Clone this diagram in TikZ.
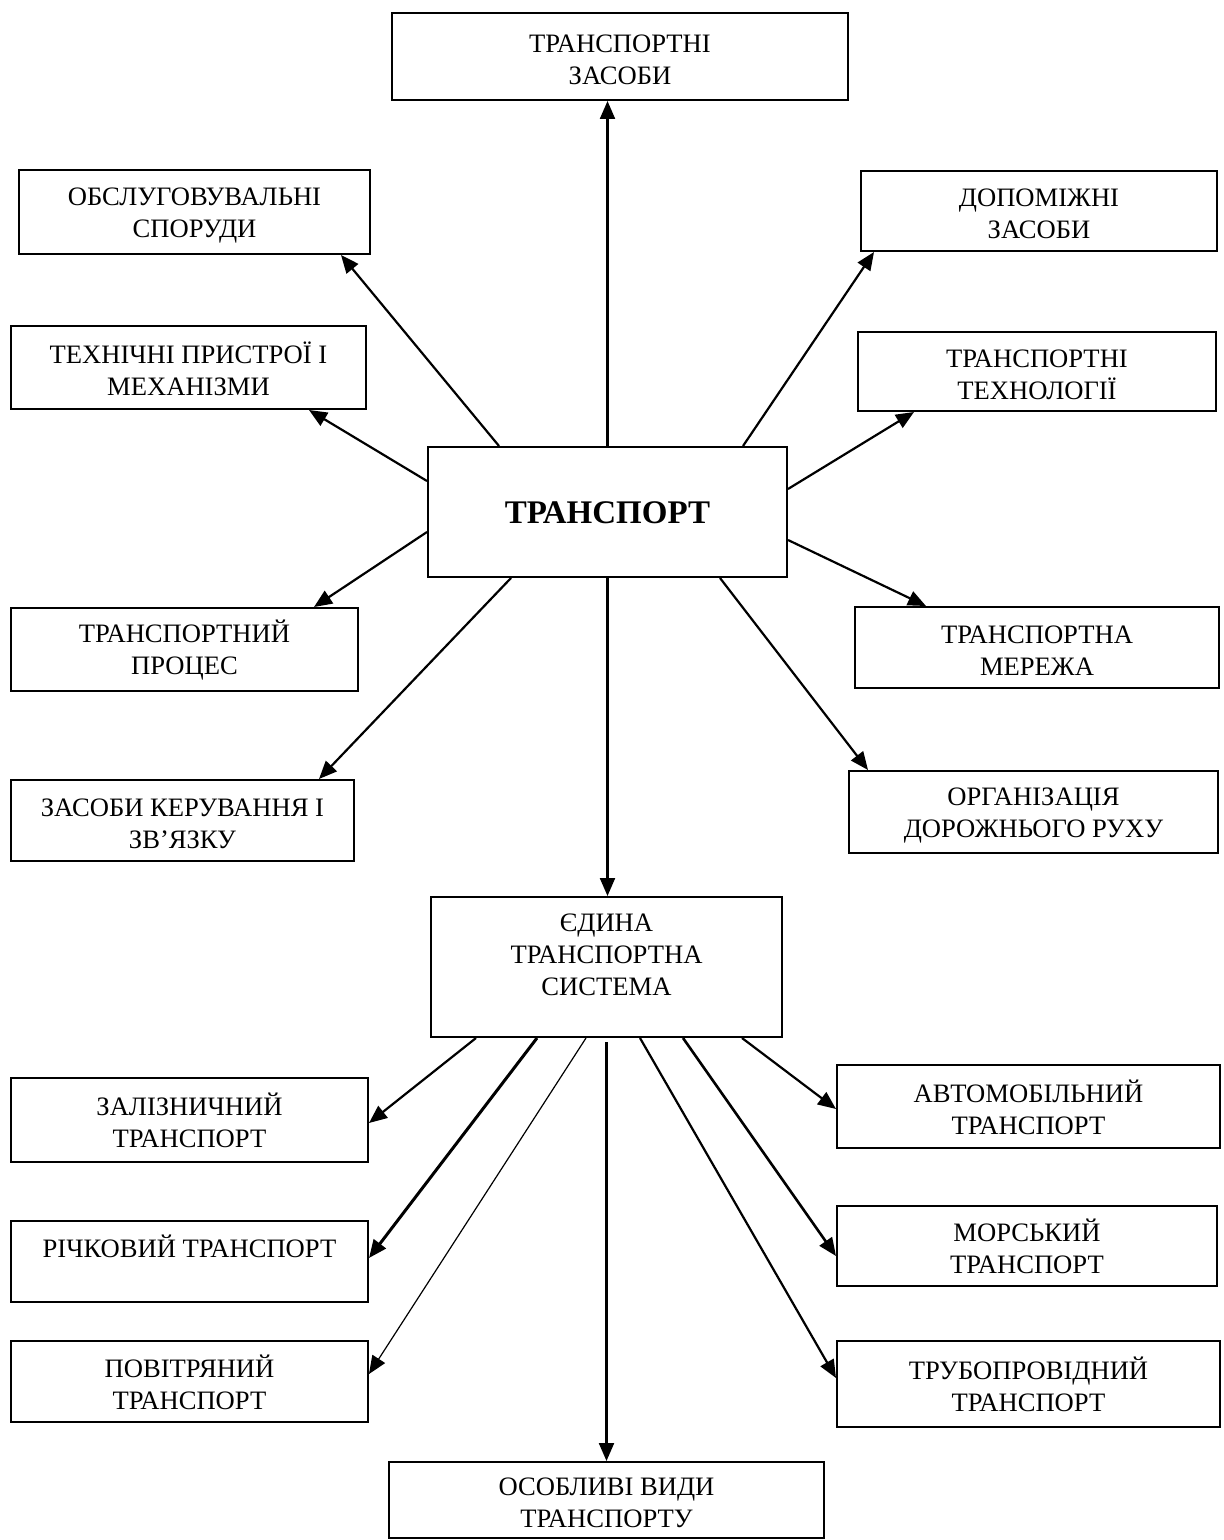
\documentclass[tikz,border=0pt]{standalone}
\usepackage{fontspec}
\setmainfont{Liberation Serif}
\usetikzlibrary{arrows.meta}
\newcommand{\boxfont}{\fontsize{13.3}{16}\selectfont}
\newcommand{\tstrut}{\rule{0pt}{12pt}}
\begin{document}
\begin{tikzpicture}[x=0.5pt,y=-0.5pt,
  box/.style={draw, line width=1pt, inner sep=0pt, align=center, font=\boxfont},
  arr/.style={line width=1.1pt, -{Triangle[length=9pt,width=7.5pt]}},
  thinarr/.style={arr, line width=0.6pt},
  thickarr/.style={arr, line width=1.5pt}]
\useasboundingbox (0,0) rectangle (1223,1540);

\node[box, minimum width=228pt, minimum height=43.5pt] (tz) at (620,56.5) {\tstrut ТРАНСПОРТНІ\\ЗАСОБИ};
\node[box, minimum width=175.5pt, minimum height=42pt] (obs) at (194.5,212) {\tstrut ОБСЛУГОВУВАЛЬНІ\\СПОРУДИ};
\node[box, minimum width=178pt, minimum height=40pt] (dop) at (1039,211) {\tstrut ДОПОМІЖНІ\\ЗАСОБИ};
\node[box, minimum width=177.5pt, minimum height=41.5pt] (teh) at (188.5,367.5) {\tstrut ТЕХНІЧНІ ПРИСТРОЇ І\\МЕХАНІЗМИ};
\node[box, minimum width=179pt, minimum height=39.5pt] (tt) at (1037,371.5) {\tstrut ТРАНСПОРТНІ\\ТЕХНОЛОГІЇ};
\node[box, minimum width=179.5pt, minimum height=65pt, font=\fontsize{16.5}{20}\selectfont\bfseries] (tr) at (607.5,512) {\tstrut ТРАНСПОРТ};
\node[box, minimum width=173.5pt, minimum height=41.5pt] (tp) at (184.5,649.5) {\tstrut ТРАНСПОРТНИЙ\\ПРОЦЕС};
\node[box, minimum width=182pt, minimum height=40.5pt] (tm) at (1037,647.5) {\tstrut ТРАНСПОРТНА\\МЕРЕЖА};
\node[box, minimum width=171.5pt, minimum height=40.5pt] (zk) at (182.5,820.5) {\tstrut ЗАСОБИ КЕРУВАННЯ І\\ЗВ’ЯЗКУ};
\node[box, minimum width=184.5pt, minimum height=41pt] (org) at (1033.5,812) {\tstrut ОРГАНІЗАЦІЯ\\ДОРОЖНЬОГО РУХУ};
\node[box, minimum width=175.5pt, minimum height=70pt] (ets) at (606.5,967) {\tstrut ЄДИНА\\ТРАНСПОРТНА\\СИСТЕМА\\\mbox{}};
\node[box, minimum width=178.5pt, minimum height=42pt] (zal) at (189.5,1120) {\tstrut ЗАЛІЗНИЧНИЙ\\ТРАНСПОРТ};
\node[box, minimum width=191.5pt, minimum height=41.5pt] (avt) at (1028.5,1106.5) {\tstrut АВТОМОБІЛЬНИЙ\\ТРАНСПОРТ};
\node[box, minimum width=178.5pt, minimum height=40.5pt] (rich) at (189.5,1261.5) {\tstrut РІЧКОВИЙ ТРАНСПОРТ\\\mbox{}};
\node[box, minimum width=190pt, minimum height=40pt] (mor) at (1027,1246) {\tstrut МОРСЬКИЙ\\ТРАНСПОРТ};
\node[box, minimum width=178.5pt, minimum height=40.5pt] (pov) at (189.5,1381.5) {\tstrut ПОВІТРЯНИЙ\\ТРАНСПОРТ};
\node[box, minimum width=191.5pt, minimum height=43pt] (trub) at (1028.5,1384) {\tstrut ТРУБОПРОВІДНИЙ\\ТРАНСПОРТ};
\node[box, minimum width=217.5pt, minimum height=38pt] (osob) at (606.5,1500) {\tstrut ОСОБЛИВІ ВИДИ\\ТРАНСПОРТУ};

% from ТРАНСПОРТ
\draw[arr] (tr.north) -- (tr.north |- tz.south);
\draw[arr] ([xshift=36pt]tr.north west) -- ([xshift=-15pt]obs.south east);
\draw[arr] ([xshift=-22.5pt]tr.north east) -- ([xshift=7pt]dop.south west);
\draw[arr] ([yshift=-17.5pt]tr.north west) -- ([xshift=-29pt]teh.south east);
\draw[arr] ([yshift=-21.5pt]tr.north east) -- ([xshift=28.5pt]tt.south west);
\draw[arr] ([yshift=23pt]tr.south west) -- ([xshift=-22.5pt]tp.north east);
\draw[arr] ([yshift=19pt]tr.south east) -- ([xshift=36pt]tm.north west);
\draw[arr] ([xshift=42pt]tr.south west) -- ([xshift=-18pt]zk.north east);
\draw[arr] ([xshift=-34pt]tr.south east) -- ([xshift=10pt]org.north west);
\draw[arr] (tr.south) -- (tr.south |- ets.north);

% from ЄДИНА ТРАНСПОРТНА СИСТЕМА
\draw[arr] ([xshift=23pt]ets.south west) -- ([yshift=20pt]zal.south east);
\draw[thickarr] ([xshift=53.5pt]ets.south west) -- ([yshift=22.5pt]rich.south east);
\draw[thinarr] ([xshift=78pt]ets.south west) -- ([yshift=24.5pt]pov.south east);
\draw[arr] ([yshift=-2pt]ets.south) -- (ets.south |- osob.north);
\draw[arr] ([xshift=-71.5pt]ets.south east) -- ([yshift=-19pt]trub.north west);
\draw[arr, line width=1.3pt] ([xshift=-50pt]ets.south east) -- ([yshift=-25.5pt]mor.north west);
\draw[arr] ([xshift=-20.5pt]ets.south east) -- ([yshift=-22.5pt]avt.north west);
\end{tikzpicture}
\end{document}
